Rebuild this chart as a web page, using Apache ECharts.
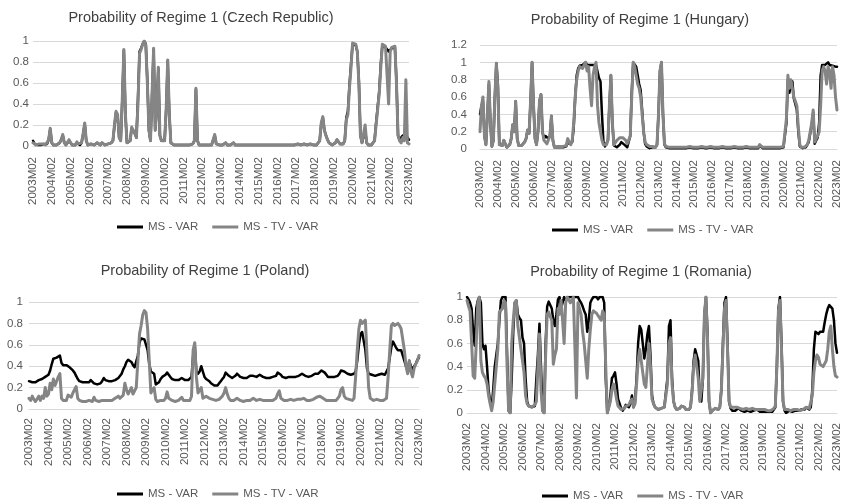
<!DOCTYPE html>
<html>
<head>
<meta charset="utf-8">
<script src="https://cdn.jsdelivr.net/npm/echarts@6/dist/echarts.min.js"></script>
<style>
  html, body { margin: 0; padding: 0; background: #ffffff; }
  #chart { width: 843px; height: 503px; }
</style>
</head>
<body>
<div id="chart"></div>
<script>
// Monthly categories 2003M02 .. 2023M02
const months = [];
for (let k = 0; k <= 240; k++) {
  const y = 2003 + Math.floor((k + 1) / 12);
  const m = ((k + 1) % 12) + 1;
  months.push(y + 'M' + (m < 10 ? '0' + m : m));
}

const seriesNames = ['MS - VAR', 'MS - TV - VAR'];
const yTicks12 = ['0', '0.2', '0.4', '0.6', '0.8', '1', '1.2'];

// Czech Republic (one row per year, Feb..Jan)
const czVar = [
  0.05,0.02,0.01,0.01,0.02,0.01,0.02,0.02,0.01,0.02,0.06,0.16,
  0.03,0.01,0.01,0.01,0.02,0.03,0.06,0.10,0.03,0.01,0.02,0.05,
  0.03,0.01,0.02,0.01,0.03,0.02,0.01,0.03,0.11,0.21,0.05,0.01,
  0.01,0.02,0.01,0.01,0.02,0.03,0.02,0.01,0.03,0.02,0.01,0.02,
  0.02,0.01,0.03,0.05,0.19,0.32,0.29,0.08,0.05,0.44,0.91,0.29,
  0.03,0.02,0.05,0.17,0.17,0.12,0.08,0.45,0.90,0.93,0.97,1.00,
  0.97,0.62,0.15,0.05,0.48,0.92,0.15,0.34,0.74,0.10,0.05,0.04,
  0.05,0.34,0.81,0.30,0.03,0.02,0.01,0.01,0.01,0.01,0.01,0.01,
  0.01,0.01,0.01,0.01,0.01,0.01,0.02,0.05,0.54,0.05,0.01,0.01,
  0.01,0.01,0.01,0.01,0.01,0.01,0.01,0.02,0.10,0.02,0.01,0.01,
  0.01,0.01,0.02,0.03,0.01,0.01,0.01,0.01,0.03,0.01,0.01,0.01,
  0.01,0.01,0.01,0.01,0.01,0.01,0.01,0.01,0.01,0.01,0.01,0.01,
  0.01,0.01,0.01,0.01,0.01,0.01,0.01,0.01,0.01,0.01,0.01,0.01,
  0.01,0.01,0.02,0.01,0.01,0.01,0.01,0.01,0.02,0.01,0.01,0.01,
  0.01,0.02,0.01,0.01,0.01,0.02,0.01,0.01,0.01,0.02,0.01,0.01,
  0.01,0.01,0.02,0.05,0.21,0.27,0.15,0.10,0.06,0.03,0.02,0.01,
  0.02,0.03,0.06,0.04,0.02,0.02,0.02,0.05,0.27,0.33,0.58,0.78,
  0.97,0.98,0.96,0.90,0.62,0.10,0.03,0.02,0.15,0.03,0.01,0.01,
  0.01,0.01,0.05,0.22,0.37,0.52,0.78,0.96,0.95,0.94,0.93,0.90,
  0.91,0.93,0.94,0.94,0.62,0.10,0.06,0.08,0.10,0.08,0.12,0.08,
  0.06
];
const czTv = [
  0.03,0.02,0.01,0.01,0.02,0.01,0.02,0.02,0.01,0.02,0.06,0.17,
  0.03,0.01,0.01,0.01,0.02,0.03,0.06,0.11,0.03,0.01,0.02,0.06,
  0.03,0.01,0.02,0.01,0.04,0.02,0.01,0.03,0.12,0.22,0.05,0.01,
  0.01,0.02,0.01,0.01,0.02,0.03,0.02,0.01,0.03,0.02,0.01,0.02,
  0.02,0.01,0.03,0.05,0.20,0.33,0.30,0.08,0.05,0.45,0.92,0.30,
  0.03,0.02,0.05,0.18,0.18,0.12,0.08,0.40,0.88,0.92,0.97,1.00,
  0.96,0.60,0.15,0.05,0.50,0.93,0.15,0.35,0.75,0.10,0.05,0.04,
  0.05,0.35,0.82,0.30,0.03,0.02,0.01,0.01,0.01,0.01,0.01,0.01,
  0.01,0.01,0.01,0.01,0.01,0.01,0.02,0.05,0.55,0.05,0.01,0.01,
  0.01,0.01,0.01,0.01,0.01,0.01,0.01,0.02,0.11,0.02,0.01,0.01,
  0.01,0.01,0.02,0.03,0.01,0.01,0.01,0.01,0.03,0.01,0.01,0.01,
  0.01,0.01,0.01,0.01,0.01,0.01,0.01,0.01,0.01,0.01,0.01,0.01,
  0.01,0.01,0.01,0.01,0.01,0.01,0.01,0.01,0.01,0.01,0.01,0.01,
  0.01,0.01,0.02,0.01,0.01,0.01,0.01,0.01,0.02,0.01,0.01,0.01,
  0.01,0.02,0.01,0.01,0.01,0.02,0.01,0.01,0.01,0.02,0.01,0.01,
  0.01,0.01,0.02,0.05,0.22,0.28,0.15,0.10,0.06,0.03,0.02,0.01,
  0.02,0.03,0.06,0.04,0.02,0.02,0.02,0.05,0.25,0.30,0.55,0.75,
  0.98,0.99,0.97,0.90,0.60,0.10,0.03,0.02,0.20,0.03,0.01,0.01,
  0.01,0.01,0.05,0.20,0.35,0.50,0.75,0.97,0.96,0.95,0.94,0.40,
  0.90,0.94,0.95,0.95,0.60,0.10,0.05,0.03,0.08,0.05,0.63,0.03,
  0.02
];

// Hungary
const huVar = [
  0.40,0.50,0.55,0.15,0.05,0.40,0.75,0.30,0.03,0.10,0.60,0.99,
  0.75,0.05,0.03,0.04,0.10,0.06,0.02,0.03,0.05,0.12,0.28,0.20,
  0.55,0.12,0.04,0.03,0.04,0.05,0.08,0.12,0.22,0.18,0.55,1.00,
  0.50,0.12,0.05,0.20,0.55,0.63,0.20,0.12,0.15,0.15,0.12,0.15,
  0.38,0.10,0.02,0.02,0.02,0.01,0.02,0.03,0.02,0.04,0.03,0.10,
  0.06,0.04,0.08,0.25,0.60,0.85,0.93,0.96,0.97,0.97,0.98,1.00,
  0.97,0.98,0.97,0.95,0.97,0.98,0.97,0.95,0.82,0.78,0.40,0.08,
  0.03,0.05,0.10,0.50,0.85,0.30,0.04,0.02,0.02,0.02,0.05,0.08,
  0.08,0.05,0.03,0.02,0.03,0.15,0.65,1.00,1.00,0.95,0.85,0.75,
  0.68,0.45,0.20,0.06,0.03,0.02,0.01,0.02,0.02,0.01,0.02,0.05,
  0.40,0.90,1.00,0.40,0.05,0.02,0.01,0.01,0.01,0.01,0.02,0.01,
  0.01,0.01,0.03,0.01,0.01,0.01,0.01,0.01,0.01,0.02,0.01,0.01,
  0.01,0.01,0.01,0.01,0.01,0.02,0.01,0.01,0.01,0.01,0.01,0.02,
  0.01,0.01,0.01,0.01,0.01,0.01,0.01,0.02,0.01,0.01,0.01,0.01,
  0.01,0.01,0.01,0.02,0.01,0.01,0.01,0.01,0.01,0.01,0.01,0.02,
  0.01,0.01,0.01,0.01,0.01,0.01,0.01,0.01,0.04,0.02,0.01,0.01,
  0.01,0.01,0.01,0.01,0.01,0.01,0.01,0.01,0.01,0.01,0.01,0.02,
  0.02,0.04,0.30,0.80,0.65,0.75,0.78,0.58,0.52,0.45,0.20,0.03,
  0.01,0.01,0.01,0.02,0.04,0.08,0.18,0.28,0.42,0.06,0.10,0.13,
  0.30,0.85,0.97,0.99,0.97,0.98,1.00,0.97,0.98,0.96,0.97,0.95,
  0.95
];
const huTv = [
  0.20,0.50,0.60,0.15,0.05,0.40,0.78,0.30,0.03,0.10,0.60,0.99,
  0.70,0.05,0.03,0.04,0.10,0.06,0.02,0.03,0.05,0.12,0.28,0.20,
  0.55,0.12,0.04,0.03,0.04,0.05,0.08,0.12,0.22,0.18,0.55,1.00,
  0.50,0.12,0.05,0.20,0.55,0.63,0.20,0.10,0.08,0.06,0.05,0.15,
  0.38,0.10,0.02,0.03,0.03,0.02,0.03,0.04,0.03,0.05,0.04,0.12,
  0.08,0.05,0.10,0.30,0.60,0.80,0.90,0.95,0.97,0.93,0.97,1.00,
  0.90,0.95,0.70,0.50,0.85,0.95,1.00,0.50,0.30,0.20,0.10,0.05,
  0.03,0.05,0.10,0.50,0.85,0.30,0.05,0.04,0.10,0.12,0.13,0.12,
  0.13,0.12,0.10,0.06,0.04,0.15,0.60,1.00,0.95,0.85,0.75,0.70,
  0.60,0.40,0.20,0.08,0.05,0.03,0.03,0.02,0.03,0.03,0.02,0.05,
  0.40,0.90,1.00,0.40,0.06,0.03,0.02,0.02,0.02,0.02,0.03,0.02,
  0.02,0.02,0.04,0.02,0.02,0.02,0.02,0.02,0.02,0.03,0.02,0.02,
  0.02,0.02,0.02,0.02,0.02,0.03,0.02,0.02,0.02,0.02,0.02,0.03,
  0.02,0.02,0.02,0.02,0.02,0.02,0.02,0.03,0.02,0.02,0.02,0.02,
  0.02,0.02,0.02,0.03,0.02,0.02,0.02,0.02,0.02,0.02,0.02,0.03,
  0.02,0.02,0.02,0.02,0.02,0.02,0.02,0.02,0.05,0.03,0.02,0.02,
  0.02,0.02,0.02,0.02,0.02,0.02,0.02,0.02,0.02,0.02,0.02,0.03,
  0.03,0.05,0.35,0.85,0.70,0.80,0.80,0.60,0.55,0.50,0.25,0.05,
  0.02,0.02,0.02,0.03,0.05,0.10,0.20,0.30,0.45,0.08,0.12,0.15,
  0.20,0.50,0.90,0.95,0.90,0.75,0.95,0.90,0.70,0.95,0.85,0.60,
  0.45
];

// Poland
const plVar = [
  0.26,0.25,0.25,0.26,0.25,0.26,0.27,0.27,0.28,0.28,0.30,0.31,
  0.32,0.36,0.42,0.47,0.46,0.48,0.49,0.50,0.43,0.41,0.42,0.41,
  0.40,0.39,0.38,0.36,0.34,0.31,0.28,0.26,0.25,0.25,0.26,0.25,
  0.24,0.25,0.27,0.26,0.24,0.23,0.23,0.22,0.24,0.26,0.29,0.27,
  0.26,0.26,0.25,0.26,0.25,0.27,0.28,0.29,0.30,0.33,0.37,0.40,
  0.44,0.46,0.46,0.44,0.41,0.39,0.38,0.50,0.62,0.66,0.67,0.65,
  0.64,0.55,0.42,0.35,0.34,0.33,0.23,0.23,0.25,0.28,0.30,0.31,
  0.32,0.34,0.33,0.30,0.28,0.27,0.27,0.27,0.27,0.28,0.29,0.28,
  0.27,0.26,0.27,0.28,0.30,0.50,0.60,0.35,0.33,0.35,0.40,0.35,
  0.30,0.28,0.27,0.26,0.24,0.23,0.22,0.21,0.22,0.24,0.26,0.28,
  0.30,0.34,0.33,0.31,0.30,0.29,0.30,0.31,0.33,0.32,0.30,0.29,
  0.29,0.30,0.29,0.30,0.31,0.30,0.31,0.30,0.30,0.31,0.32,0.31,
  0.30,0.30,0.29,0.29,0.29,0.30,0.30,0.30,0.31,0.34,0.35,0.32,
  0.30,0.30,0.29,0.30,0.30,0.31,0.30,0.30,0.30,0.31,0.31,0.32,
  0.33,0.32,0.31,0.30,0.30,0.30,0.31,0.32,0.33,0.33,0.33,0.34,
  0.36,0.36,0.34,0.32,0.30,0.30,0.30,0.30,0.30,0.30,0.31,0.33,
  0.36,0.37,0.35,0.34,0.33,0.32,0.32,0.32,0.33,0.35,0.45,0.60,
  0.70,0.72,0.71,0.55,0.38,0.33,0.32,0.32,0.31,0.31,0.32,0.32,
  0.33,0.33,0.33,0.32,0.32,0.38,0.48,0.58,0.63,0.60,0.57,0.55,
  0.54,0.55,0.50,0.45,0.40,0.36,0.45,0.40,0.37,0.40,0.42,0.46,
  0.48
];
const plTv = [
  0.10,0.08,0.12,0.09,0.07,0.08,0.12,0.08,0.12,0.10,0.20,0.12,
  0.14,0.24,0.18,0.28,0.22,0.26,0.30,0.33,0.10,0.08,0.07,0.08,
  0.13,0.12,0.11,0.15,0.14,0.21,0.10,0.08,0.07,0.07,0.08,0.07,
  0.07,0.08,0.07,0.07,0.11,0.08,0.07,0.07,0.07,0.08,0.09,0.08,
  0.07,0.08,0.07,0.08,0.09,0.10,0.09,0.12,0.10,0.09,0.13,0.24,
  0.18,0.14,0.17,0.20,0.14,0.13,0.20,0.45,0.70,0.78,0.88,0.92,
  0.90,0.75,0.45,0.15,0.18,0.20,0.09,0.07,0.07,0.08,0.07,0.08,
  0.10,0.16,0.10,0.09,0.08,0.08,0.07,0.08,0.08,0.09,0.11,0.08,
  0.08,0.08,0.09,0.08,0.12,0.55,0.62,0.30,0.15,0.14,0.20,0.10,
  0.11,0.12,0.12,0.10,0.09,0.09,0.08,0.08,0.09,0.09,0.10,0.12,
  0.15,0.20,0.14,0.10,0.08,0.08,0.08,0.09,0.10,0.11,0.08,0.07,
  0.07,0.08,0.08,0.07,0.08,0.09,0.10,0.10,0.08,0.08,0.09,0.08,
  0.08,0.07,0.08,0.08,0.08,0.08,0.08,0.09,0.10,0.14,0.17,0.10,
  0.09,0.08,0.08,0.08,0.08,0.09,0.08,0.08,0.08,0.09,0.08,0.09,
  0.09,0.10,0.09,0.08,0.08,0.08,0.09,0.09,0.10,0.11,0.12,0.12,
  0.11,0.10,0.09,0.08,0.08,0.08,0.08,0.08,0.08,0.08,0.09,0.12,
  0.18,0.20,0.12,0.10,0.09,0.09,0.09,0.08,0.10,0.30,0.55,0.75,
  0.83,0.80,0.80,0.83,0.50,0.20,0.10,0.09,0.08,0.08,0.09,0.08,
  0.08,0.09,0.08,0.08,0.10,0.30,0.55,0.78,0.80,0.78,0.79,0.80,
  0.78,0.75,0.65,0.55,0.40,0.33,0.45,0.35,0.30,0.38,0.42,0.45,
  0.50
];

// Romania
const roVar = [
  1.00,0.98,0.95,0.90,0.70,0.58,0.90,0.97,1.00,0.95,0.60,0.55,
  0.58,0.40,0.20,0.10,0.05,0.20,0.40,0.50,0.60,0.80,0.97,1.00,
  1.00,1.00,0.50,0.02,0.00,0.30,0.70,0.95,0.97,0.85,0.82,0.80,
  0.65,0.60,0.30,0.10,0.06,0.05,0.05,0.05,0.06,0.30,0.50,0.77,
  0.40,0.02,0.00,0.60,0.92,0.96,0.97,0.90,0.80,0.75,0.85,0.98,
  1.00,0.90,0.95,1.00,0.97,0.98,1.00,1.00,1.00,1.00,1.00,1.00,
  1.00,0.97,0.95,0.92,0.88,0.85,0.70,0.80,0.95,0.98,1.00,1.00,
  1.00,0.98,1.00,1.00,1.00,0.95,0.30,0.00,0.05,0.15,0.30,0.32,
  0.35,0.25,0.12,0.08,0.04,0.02,0.04,0.07,0.07,0.05,0.08,0.15,
  0.05,0.10,0.30,0.60,0.75,0.72,0.60,0.47,0.55,0.68,0.75,0.50,
  0.15,0.08,0.05,0.04,0.03,0.03,0.04,0.05,0.05,0.06,0.30,0.75,
  0.80,0.30,0.10,0.05,0.03,0.03,0.04,0.06,0.07,0.05,0.03,0.02,
  0.03,0.05,0.20,0.45,0.55,0.50,0.45,0.12,0.10,0.30,0.85,1.00,
  0.70,0.10,0.00,0.02,0.03,0.04,0.03,0.03,0.05,0.20,0.60,0.95,
  1.00,0.60,0.10,0.04,0.02,0.02,0.02,0.03,0.04,0.03,0.02,0.02,
  0.01,0.02,0.02,0.02,0.01,0.02,0.02,0.02,0.03,0.02,0.01,0.01,
  0.01,0.02,0.01,0.01,0.01,0.01,0.01,0.02,0.05,0.40,0.90,1.00,
  0.60,0.10,0.02,0.00,0.01,0.02,0.02,0.01,0.02,0.02,0.03,0.02,
  0.02,0.03,0.02,0.03,0.05,0.04,0.03,0.05,0.20,0.55,0.70,0.70,
  0.68,0.70,0.70,0.70,0.78,0.85,0.90,0.93,0.93,0.90,0.80,0.60,
  0.52
];
const roTv = [
  0.97,0.92,0.88,0.60,0.32,0.30,0.60,0.95,1.00,0.45,0.35,0.32,
  0.30,0.25,0.15,0.08,0.02,0.10,0.25,0.40,0.55,0.87,0.87,0.90,
  0.97,0.95,0.40,0.02,0.00,0.60,0.80,0.95,0.97,0.75,0.65,0.55,
  0.45,0.35,0.15,0.08,0.06,0.05,0.05,0.05,0.07,0.10,0.40,0.68,
  0.20,0.02,0.00,0.50,0.85,0.87,0.83,0.80,0.42,0.50,0.55,0.90,
  0.85,0.97,0.80,0.60,0.95,1.00,0.98,0.95,0.97,1.00,1.00,0.13,
  0.95,0.90,0.85,0.70,0.60,0.45,0.30,0.55,0.72,0.85,0.88,0.88,
  0.86,0.85,0.82,0.80,0.88,0.85,0.40,0.00,0.05,0.10,0.20,0.25,
  0.20,0.12,0.06,0.05,0.03,0.02,0.04,0.06,0.07,0.07,0.10,0.12,
  0.05,0.08,0.25,0.45,0.55,0.45,0.35,0.25,0.22,0.40,0.60,0.40,
  0.12,0.08,0.05,0.04,0.03,0.03,0.04,0.04,0.05,0.06,0.25,0.60,
  0.65,0.25,0.10,0.05,0.03,0.03,0.04,0.06,0.07,0.05,0.03,0.02,
  0.03,0.05,0.18,0.40,0.50,0.40,0.30,0.10,0.10,0.30,0.85,1.00,
  0.65,0.10,0.00,0.02,0.03,0.04,0.03,0.03,0.05,0.20,0.55,0.90,
  0.97,0.55,0.10,0.05,0.04,0.05,0.06,0.05,0.06,0.04,0.03,0.03,
  0.03,0.04,0.03,0.03,0.03,0.04,0.04,0.03,0.04,0.03,0.03,0.03,
  0.02,0.03,0.03,0.02,0.03,0.02,0.03,0.04,0.06,0.40,0.88,0.97,
  0.55,0.10,0.03,0.02,0.03,0.03,0.02,0.03,0.03,0.02,0.03,0.03,
  0.02,0.03,0.03,0.03,0.05,0.05,0.04,0.05,0.15,0.35,0.45,0.50,
  0.48,0.42,0.42,0.40,0.39,0.45,0.55,0.70,0.75,0.55,0.40,0.32,
  0.31
];

const FONT = "'Liberation Sans', Arial, sans-serif";
const AXIS_TEXT = '#595959';
const GRID_LINE = '#d9d9d9';
const COLORS = ['#000000', '#858585'];

// Four small-multiple panels laid out in a 2x2 arrangement
const panels = [
  { title: 'Probability of Regime 1 (Czech Republic)', titleX: 201, titleY: 10,
    grid: { left: 33, top: 41, width: 376, height: 105 }, yMax: 1, yMargin: 4, xMargin: 11,
    legendX: 215, legendY: 221, data: [czVar, czTv] },
  { title: 'Probability of Regime 1 (Hungary)', titleX: 640, titleY: 12,
    grid: { left: 480, top: 45, width: 358, height: 104 }, yMax: 1.2, yMargin: 13, xMargin: 11,
    legendX: 650, legendY: 224, data: [huVar, huTv] },
  { title: 'Probability of Regime 1 (Poland)', titleX: 205, titleY: 263,
    grid: { left: 29, top: 302, width: 390, height: 107 }, yMax: 1, yMargin: 6, xMargin: 9,
    legendX: 215, legendY: 488, data: [plVar, plTv] },
  { title: 'Probability of Regime 1 (Romania)', titleX: 641, titleY: 264,
    grid: { left: 467, top: 297, width: 371, height: 116 }, yMax: 1, yMargin: 4, xMargin: 10,
    legendX: 640, legendY: 490, data: [roVar, roTv] }
];

const option = {
  backgroundColor: '#ffffff',
  animation: false,
  textStyle: { fontFamily: FONT },
  title: [], legend: [], grid: [], xAxis: [], yAxis: [], series: []
};

panels.forEach((p, gi) => {
  option.title.push({
    text: p.title, left: p.titleX, top: p.titleY, textAlign: 'center', padding: 0,
    textStyle: { fontFamily: FONT, fontSize: 14.5, fontWeight: 'normal', color: '#404040' }
  });
  option.legend.push({
    data: seriesNames, left: p.legendX, top: p.legendY, padding: 0,
    textAlign: 'center',
    icon: 'rect', itemWidth: 26, itemHeight: 3, itemGap: 14,
    selectedMode: false,
    textStyle: { fontFamily: FONT, fontSize: 11.5, color: AXIS_TEXT }
  });
  option.grid.push(Object.assign({ containLabel: false }, p.grid));
  option.xAxis.push({
    type: 'category', gridIndex: gi, data: months, boundaryGap: false,
    axisLine: { show: true, lineStyle: { color: GRID_LINE, width: 1 } },
    axisTick: { show: false },
    axisLabel: { interval: 11, rotate: 90, margin: p.xMargin, fontFamily: FONT, fontSize: 11.5, color: AXIS_TEXT }
  });
  option.yAxis.push({
    type: 'value', gridIndex: gi, min: 0, max: p.yMax, interval: 0.2,
    axisLine: { show: false }, axisTick: { show: false },
    splitLine: { show: true, lineStyle: { color: GRID_LINE, width: 1 } },
    axisLabel: {
      margin: p.yMargin, fontFamily: FONT, fontSize: 11.5, color: AXIS_TEXT,
      formatter: v => yTicks12[Math.round(v / 0.2)]
    }
  });
  seriesNames.forEach((name, si) => {
    option.series.push({
      name: name, type: 'line', xAxisIndex: gi, yAxisIndex: gi,
      data: p.data[si], symbol: 'none', smooth: false,
      color: COLORS[si],
      lineStyle: { color: COLORS[si], width: si === 0 ? 2.5 : 3, cap: 'round', join: 'round' },
      z: 2 + si
    });
  });
});

// Legends are positioned by their centre point
option.legend.forEach(l => { l.left = l.left - 98; delete l.textAlign; });

const chart = echarts.init(document.getElementById('chart'), null, { renderer: 'canvas' });
chart.setOption(option);
</script>
</body>
</html>
